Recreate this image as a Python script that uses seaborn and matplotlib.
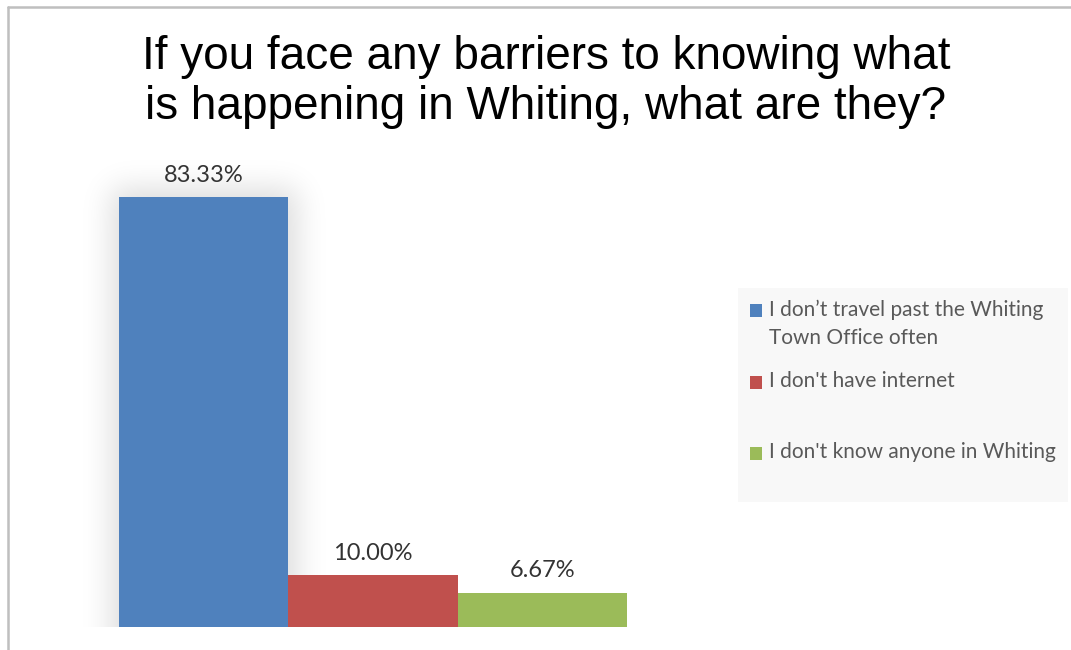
import math
import numpy as np
import pandas as pd
import seaborn as sns
import matplotlib
matplotlib.use("Agg")
import matplotlib.pyplot as plt
from matplotlib.patches import Rectangle, Patch
from matplotlib.legend_handler import HandlerPatch
from matplotlib.lines import Line2D

# ---- data ----
title = "If you face any barriers to knowing what\nis happening in Whiting, what are they?"
barriers = [
    "I don\u2019t travel past the Whiting\nTown Office often",
    "I don't have internet",
    "I don't know anyone in Whiting",
]
shares = [83.33, 10.00, 6.67]
colors = ["#4F81BD", "#C0504D", "#9BBB59"]

sns.set_theme(style="white")
plt.rcParams["font.family"] = ["Lato", "DejaVu Sans"]

W, H = 1071, 650
fig = plt.figure(figsize=(W / 100, H / 100), dpi=100)
fig.patch.set_facecolor("white")

# plot area in pixels (left, right, bottom, top measured from the top edge)
ax_l, ax_r, ax_b = 34, 712, 627
y_max = 100
px_per_unit = 5.16
ax_t = ax_b - y_max * px_per_unit
ax = fig.add_axes([ax_l / W, 1 - ax_b / H, (ax_r - ax_l) / W, (ax_b - ax_t) / H])

df = pd.DataFrame({"barrier": barriers, "share": shares})
sns.barplot(data=df, x="barrier", y="share", hue="barrier", order=barriers,
            hue_order=barriers, palette=colors, saturation=1, width=1.0,
            legend=False, ax=ax, zorder=2, edgecolor="none")

ax.set_xlim(-1, 3)
ax.set_ylim(0, y_max)
ax.set_axis_off()

# soft outer shadow behind the tallest bar
_erf = np.vectorize(math.erf)

def _soft_edge(coord, lo, hi, sigma):
    s = sigma * math.sqrt(2)
    return 0.5 * (_erf((coord - lo) / s) - _erf((coord - hi) / s))

xpx = ax.bbox.width / 4.0
ypx = ax.bbox.height / y_max
tall = max(ax.patches, key=lambda p: p.get_height())
bx0, bx1 = tall.get_x(), tall.get_x() + tall.get_width()
bh = tall.get_height()
margin, grow, sigma = 80, 8, 15
wpx = (bx1 - bx0) * xpx
hpx = bh * ypx
gx = np.arange(-margin, wpx + margin)
gy = np.arange(0, hpx + margin)[::-1]
sx = _soft_edge(gx, -grow, wpx + grow, sigma)
sy = _soft_edge(gy, -200, hpx + grow, sigma)
rgba = np.zeros((len(gy), len(gx), 4))
rgba[..., 3] = np.outer(sy, sx) * 0.14
ax.imshow(rgba, extent=(bx0 - margin / xpx, bx1 + margin / xpx, 0, bh + margin / ypx),
          aspect="auto", interpolation="bilinear", zorder=1)
ax.set_xlim(-1, 3)
ax.set_ylim(0, y_max)

# value labels
for cont in ax.containers:
    ax.bar_label(cont, fmt="%.2f%%", padding=8, fontsize=17, color="#333333")

# title
fig.text(546 / W, 1 - 35 / H, title, ha="center", va="top",
         fontsize=33, family=["Liberation Sans", "DejaVu Sans"],
         color="black", linespacing=1.18)

# legend with equal slots; squares sit beside the first line of each entry
class FirstLineSquare(HandlerPatch):
    def __init__(self, lift, **kw):
        super().__init__(**kw)
        self.lift = lift

    def create_artists(self, legend, orig_handle, xdescent, ydescent,
                       width, height, fontsize, trans):
        r = Rectangle((-xdescent, -ydescent + self.lift * fontsize), width, height,
                      facecolor=orig_handle.get_facecolor(), edgecolor="none",
                      transform=trans)
        return [r]

handles = [Patch(facecolor=c, edgecolor="none") for c in colors]
labels = [b if "\n" in b else b + "\n" for b in barriers]
leg_fs = 15
handler = FirstLineSquare(lift=0.65)
leg = fig.legend(handles, labels, loc="upper left",
                 bbox_to_anchor=(738 / W, 1 - 288 / H - 0.001, (1068 - 738) / W, 0.001),
                 mode="expand", fontsize=leg_fs, frameon=True, fancybox=False,
                 facecolor="#F8F8F8", edgecolor="none", framealpha=1,
                 handlelength=0.58, handleheight=0.58, handletextpad=0.34,
                 borderpad=0.58, borderaxespad=0, labelspacing=1.14,
                 handler_map={h: handler for h in handles})
for t in leg.get_texts():
    t.set_color("#595959")
    t.set_linespacing(1.45)

# chart border (left and top edges)
fig.add_artist(Line2D([7.5 / W, 7.5 / W], [0, 1 - 6.5 / H], transform=fig.transFigure,
                      color="#BFBFBF", lw=1.8))
fig.add_artist(Line2D([7.5 / W, 1], [1 - 6.5 / H, 1 - 6.5 / H], transform=fig.transFigure,
                      color="#BFBFBF", lw=1.8))

fig.savefig("out.png", dpi=100, facecolor="white")
